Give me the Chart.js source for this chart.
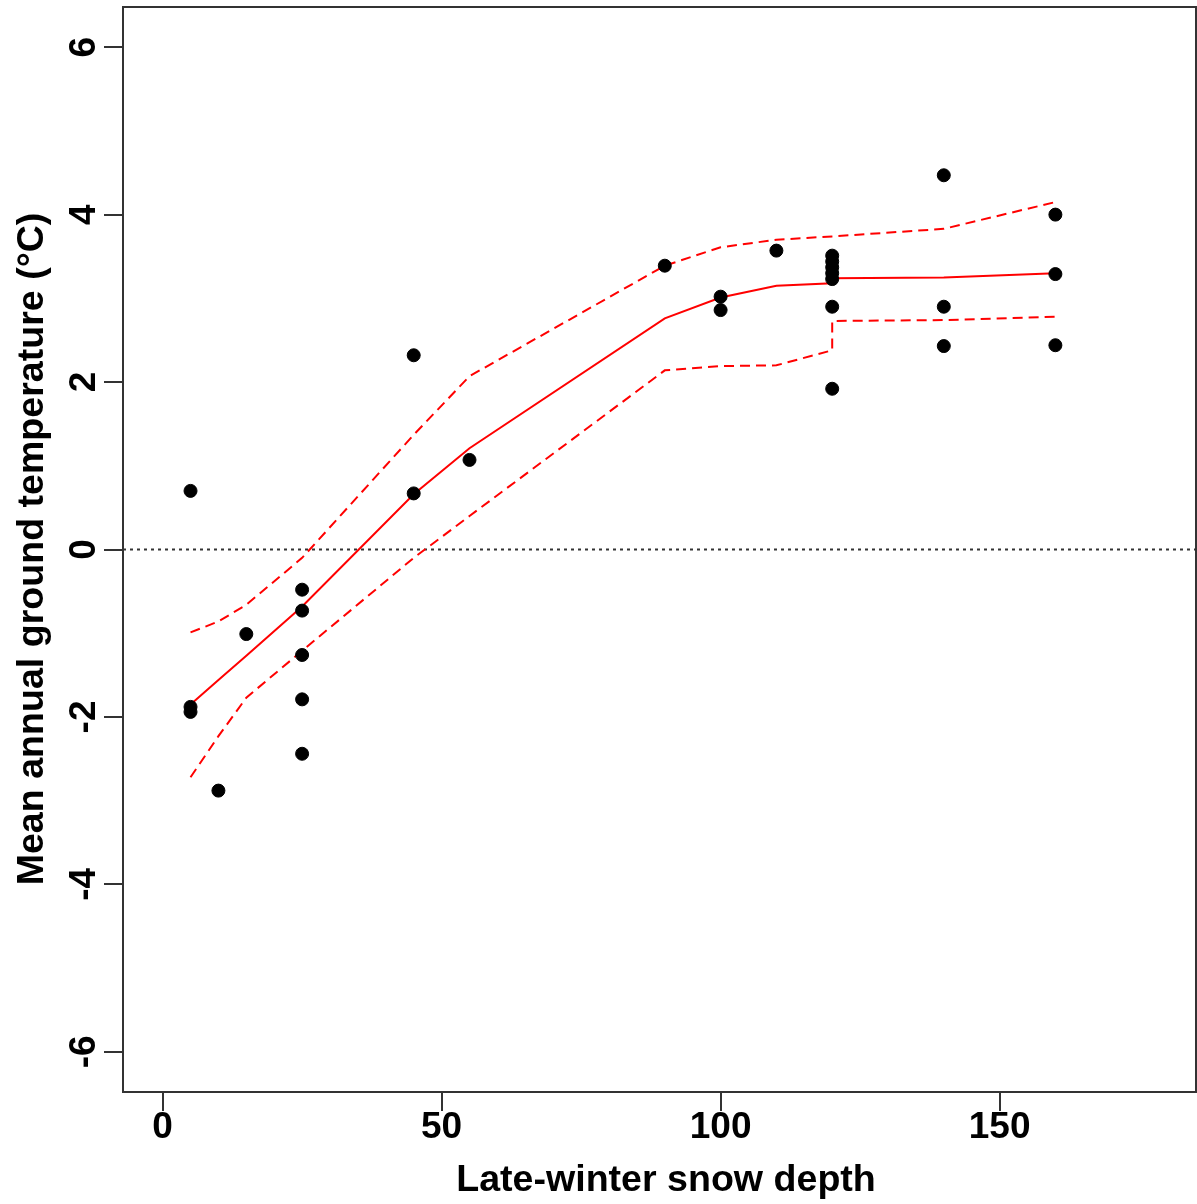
<!DOCTYPE html>
<html>
<head>
<meta charset="utf-8">
<script src="https://cdn.jsdelivr.net/npm/chart.js@4"></script>
<style>
  html, body { margin: 0; padding: 0; background: #fff; }
  #wrap { width: 1197px; height: 1204px; position: relative; }
</style>
</head>
<body>
<div id="wrap"><canvas id="myChart"></canvas></div>
<script>
/* globals Chart:false */

// Observations
const snowDepth = [5, 5, 5, 10, 15, 25, 25, 25, 25, 25, 45, 45, 55, 90, 100, 100, 110,
  120, 120, 120, 120, 120, 120, 120, 140, 140, 140, 160, 160, 160];
const groundTemp = [0.70, -1.88, -1.94, -2.88, -1.01, -0.48, -0.73, -1.26, -1.79, -2.44, 2.32, 0.67, 1.07, 3.39, 3.02, 2.86, 3.57,
  3.51, 3.44, 3.37, 3.30, 3.23, 2.90, 1.92, 4.47, 2.90, 2.43, 4.00, 3.29, 2.44];

// Fitted curve and its band
const fitDepth = [5, 10, 15, 25, 45, 55, 90, 100, 110, 120, 120, 140, 160];
const fitMean = [-1.85, -1.56, -1.27, -0.68, 0.66, 1.21, 2.76, 3.01, 3.15, 3.18, 3.24, 3.25, 3.30];
const fitUpper = [-0.99, -0.86, -0.66, -0.10, 1.37, 2.07, 3.39, 3.61, 3.70, 3.74, 3.74, 3.83, 4.15];
const fitLower = [-2.72, -2.23, -1.77, -1.21, -0.10, 0.40, 2.14, 2.19, 2.20, 2.38, 2.73, 2.74, 2.78];

const xTicks = [0, 50, 100, 150];
const yTicks = [-6, -4, -2, 0, 2, 4, 6];
const xRange = [-7.1, 185.2];
const yRange = [-6.48, 6.48];

(() => {
  "use strict";

  const pts = (xs, ys) => xs.map((x, i) => ({ x: x, y: ys[i] }));
  const font = "bold 37px 'Liberation Sans', Arial, sans-serif";
  const ink = "#333";

  // box, tick labels and axis titles drawn R-style
  const rStyle = {
    id: "rStyle",
    afterDraw(chart) {
      const c = chart.ctx;
      const a = chart.chartArea;
      const xs = chart.scales.x;
      const ys = chart.scales.y;
      c.save();
      c.strokeStyle = ink;
      c.lineWidth = 2;
      c.strokeRect(a.left, a.top, a.right - a.left, a.bottom - a.top);

      c.fillStyle = "#000";
      c.font = font;
      c.textAlign = "center";
      c.textBaseline = "middle";
      xTicks.forEach((v) => {
        c.fillText(String(v), xs.getPixelForValue(v), 1128);
      });
      yTicks.forEach((v) => {
        c.save();
        c.translate(85, ys.getPixelForValue(v));
        c.rotate(-Math.PI / 2);
        c.fillText(String(v), 0, 0);
        c.restore();
      });

      c.font = "bold 37.6px 'Liberation Sans', Arial, sans-serif";
      c.fillText("Late-winter snow depth", 666, 1181);
      c.save();
      c.translate(33, 549);
      c.rotate(-Math.PI / 2);
      c.fillText("Mean annual ground temperature (°C)", 0, 0);
      c.restore();
      c.restore();
    },
  };

  const ctx = document.getElementById("myChart");
  // eslint-disable-next-line no-unused-vars
  const myChart = new Chart(ctx, {
    type: "scatter",
    data: {
      datasets: [
        {
          data: pts(snowDepth, groundTemp),
          backgroundColor: "#000",
          borderColor: "#000",
          pointRadius: 6.5,
          pointHoverRadius: 6.5,
        },
        {
          data: pts(fitDepth, fitMean),
          showLine: true,
          borderColor: "#ff0000",
          borderWidth: 2,
          pointRadius: 0,
        },
        {
          data: pts(fitDepth, fitUpper),
          showLine: true,
          borderColor: "#ff0000",
          borderWidth: 2,
          borderDash: [10, 6],
          pointRadius: 0,
        },
        {
          data: pts(fitDepth, fitLower),
          showLine: true,
          borderColor: "#ff0000",
          borderWidth: 2,
          borderDash: [10, 6],
          pointRadius: 0,
        },
        {
          data: pts(xRange, [0, 0]),
          showLine: true,
          borderColor: ink,
          borderWidth: 2,
          borderDash: [3, 4],
          pointRadius: 0,
        },
      ],
    },
    options: {
      responsive: true,
      maintainAspectRatio: false,
      animation: false,
      layout: { autoPadding: false, padding: { top: 7, right: 1, left: 0, bottom: 0 } },
      plugins: {
        legend: { display: false },
        tooltip: { enabled: false },
      },
      scales: {
        x: {
          type: "linear",
          min: xRange[0],
          max: xRange[1],
          afterBuildTicks: (s) => { s.ticks = xTicks.map((v) => ({ value: v })); },
          afterFit: (s) => { s.height = 112; s.paddingLeft = 0; s.paddingRight = 0; },
          ticks: { color: "rgba(0,0,0,0)" },
          grid: { drawOnChartArea: false, drawTicks: true, tickLength: 19, color: ink, lineWidth: 2 },
          border: { display: true, color: ink, width: 2 },
        },
        y: {
          min: yRange[0],
          max: yRange[1],
          afterBuildTicks: (s) => { s.ticks = yTicks.map((v) => ({ value: v })); },
          afterFit: (s) => { s.width = 123; s.paddingTop = 0; s.paddingBottom = 0; },
          ticks: { color: "rgba(0,0,0,0)" },
          grid: { drawOnChartArea: false, drawTicks: true, tickLength: 19, color: ink, lineWidth: 2 },
          border: { display: true, color: ink, width: 2 },
        },
      },
    },
    plugins: [rStyle],
  });
})();
</script>
</body>
</html>
